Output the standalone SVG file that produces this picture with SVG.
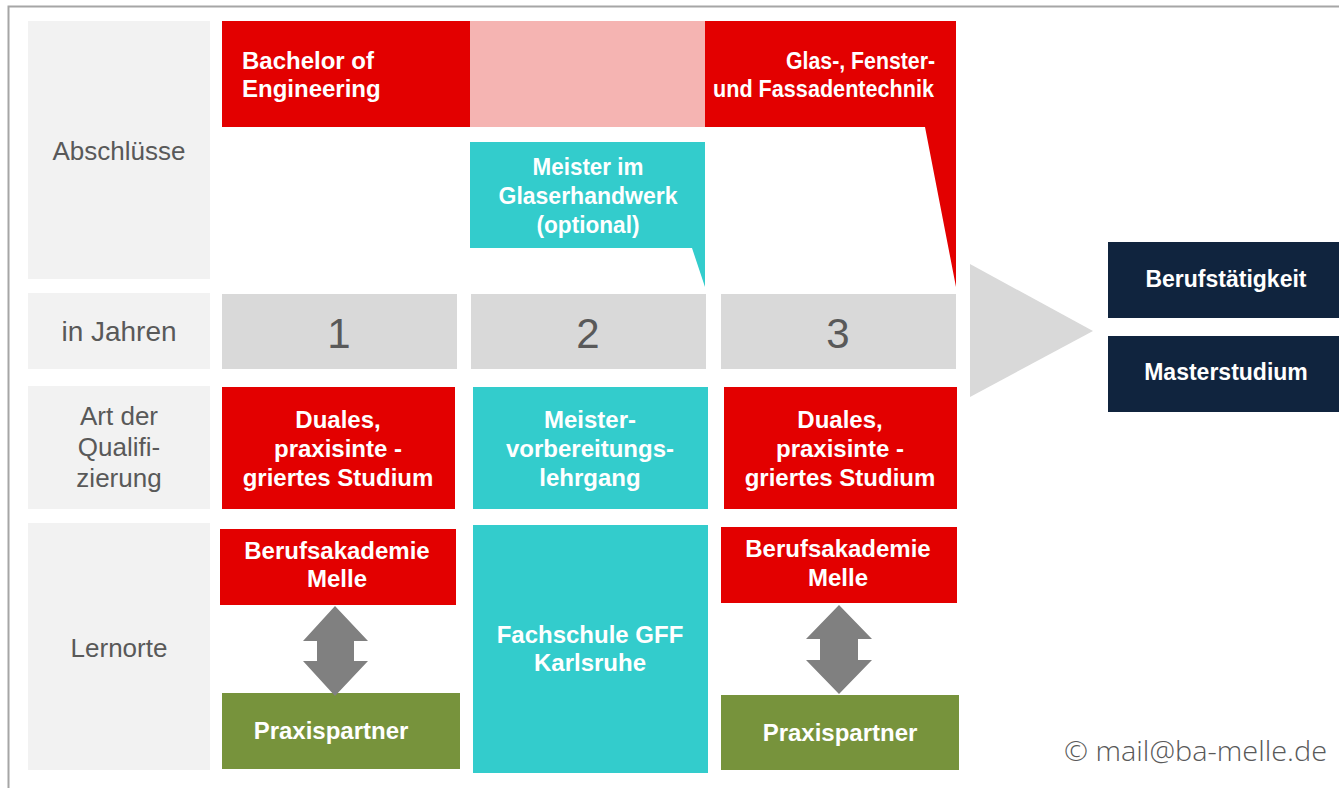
<svg xmlns="http://www.w3.org/2000/svg" width="1339" height="788" viewBox="0 0 1339 788">
<style>
.lab{fill:#f2f2f2}
.labt{font-family:"Liberation Sans",Arial,sans-serif;font-size:26px;fill:#595959;text-anchor:middle}
.yr{fill:#d9d9d9}
.yrt{font-family:"Liberation Sans",Arial,sans-serif;font-size:42px;fill:#595959;text-anchor:middle}
.red{fill:#e30000}
.teal{fill:#33cccc}
.green{fill:#77933c}
.navy{fill:#10243e}
.t{font-family:"Liberation Sans",Arial,sans-serif;font-size:24px;font-weight:bold;fill:#ffffff;text-anchor:middle}
.arr{fill:#808080}
</style>
<rect x="0" y="0" width="1339" height="788" fill="#ffffff"/>
<path d="M8.5,788 V6.5 H1339" fill="none" stroke="#a6a6a6" stroke-width="2"/>

<g id="label-abschluesse"><rect class="lab" x="28" y="21" width="182" height="258"/><text class="labt" x="119" y="160">Abschlüsse</text></g>
<g id="label-jahre"><rect class="lab" x="28" y="293" width="182" height="76"/><text class="labt" x="119" y="341" style="font-size:28px">in Jahren</text></g>
<g id="label-art"><rect class="lab" x="28" y="386" width="182" height="123"/><text class="labt" x="119" y="425">Art der</text><text class="labt" x="119" y="456">Qualifi-</text><text class="labt" x="119" y="487">zierung</text></g>
<g id="label-lernorte"><rect class="lab" x="28" y="523" width="182" height="247"/><text class="labt" x="119" y="657">Lernorte</text></g>

<g id="bachelor"><rect class="red" x="222" y="21" width="248" height="106"/><text class="t" x="242" y="69" style="text-anchor:start">Bachelor of</text><text class="t" x="242" y="97" style="text-anchor:start">Engineering</text></g>
<g id="pink-band"><rect x="470" y="21" width="235" height="106" fill="#f5b4b2"/></g>
<g id="glas"><path class="red" d="M705,21 H956 V287 L925,127 H705 Z"/><text class="t" x="935" y="69" style="text-anchor:end" textLength="149" lengthAdjust="spacingAndGlyphs">Glas-, Fenster-</text><text class="t" x="934" y="97" style="text-anchor:end" textLength="221" lengthAdjust="spacingAndGlyphs">und Fassadentechnik</text></g>
<g id="meister"><path class="teal" d="M470,142 H705 V287 L692,248 H470 Z"/><text class="t" x="588" y="175" textLength="111" lengthAdjust="spacingAndGlyphs">Meister im</text><text class="t" x="588" y="204" textLength="179" lengthAdjust="spacingAndGlyphs">Glaserhandwerk</text><text class="t" x="588" y="233" textLength="103" lengthAdjust="spacingAndGlyphs">(optional)</text></g>

<g id="jahr1"><rect class="yr" x="222" y="294" width="235" height="75"/><text class="yrt" x="339" y="348">1</text></g>
<g id="jahr2"><rect class="yr" x="471" y="294" width="235" height="75"/><text class="yrt" x="588" y="348">2</text></g>
<g id="jahr3"><rect class="yr" x="721" y="294" width="235" height="75"/><text class="yrt" x="838" y="348">3</text></g>

<g id="dual1"><rect class="red" x="222" y="387" width="233" height="122"/><text class="t" x="338" y="428">Duales,</text><text class="t" x="338" y="457">praxisinte -</text><text class="t" x="338" y="486">griertes Studium</text></g>
<g id="meisterkurs"><rect class="teal" x="473" y="387" width="235" height="122"/><text class="t" x="590" y="428">Meister-</text><text class="t" x="590" y="457">vorbereitungs-</text><text class="t" x="590" y="486">lehrgang</text></g>
<g id="dual3"><rect class="red" x="724" y="387" width="233" height="122"/><text class="t" x="840" y="428">Duales,</text><text class="t" x="840" y="457">praxisinte -</text><text class="t" x="840" y="486">griertes Studium</text></g>

<g id="ba1"><rect class="red" x="220" y="529" width="236" height="76"/><text class="t" x="337" y="559">Berufsakademie</text><text class="t" x="337" y="587">Melle</text></g>
<g id="pp1"><rect class="green" x="222" y="693" width="238" height="76"/><text class="t" x="331" y="739">Praxispartner</text></g>
<g id="fachschule"><rect class="teal" x="473" y="525" width="235" height="248"/><text class="t" x="590" y="643">Fachschule GFF</text><text class="t" x="590" y="671">Karlsruhe</text></g>
<g id="ba3"><rect class="red" x="721" y="527" width="236" height="76"/><text class="t" x="838" y="557">Berufsakademie</text><text class="t" x="838" y="586">Melle</text></g>
<g id="pp3"><rect class="green" x="721" y="695" width="238" height="75"/><text class="t" x="840" y="741">Praxispartner</text></g>

<g id="beruf"><rect class="navy" x="1108" y="242" width="231" height="76"/><text class="t" x="1226" y="287" style="font-size:23px">Berufstätigkeit</text></g>
<g id="master"><rect class="navy" x="1108" y="336" width="231" height="76"/><text class="t" x="1226" y="380" style="font-size:23px">Masterstudium</text></g>

<g id="connectors">
<path class="arr" d="M335,606 L368,641 H354 V661 H368 L335,696 L303,661 H317 V641 H303 Z"/>
<path class="arr" d="M839,605 L872,639 H858 V660 H872 L839,694 L806,660 H820 V639 H806 Z"/>
<path d="M970,264 L1093,331 L970,397 Z" fill="#d9d9d9"/>
</g>

<text x="1064" y="761" textLength="263" lengthAdjust="spacingAndGlyphs" style="font-family:'Open Sans',sans-serif;font-size:28px;font-weight:300;fill:#595959">© mail@ba-melle.de</text>
</svg>
